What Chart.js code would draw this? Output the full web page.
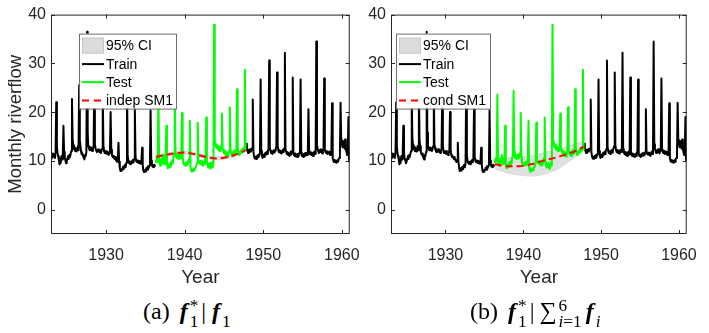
<!DOCTYPE html>
<html>
<head>
<meta charset="utf-8">
<script src="https://cdn.jsdelivr.net/npm/chart.js@4.4.1/dist/chart.umd.min.js"></script>
<style>
  html, body { margin: 0; padding: 0; background: #fff; }
  #wrap { position: relative; width: 709px; height: 333px; overflow: hidden; }
  canvas { position: absolute; top: 0; }
  #cvA { left: 0; }
  #cvB { left: 355px; }
  .cap { position: absolute; top: 296px; font-family: 'Liberation Serif', 'Times New Roman', serif; font-size: 24px; color: #000; white-space: nowrap; line-height: 30px; }
  .cap b { font-style: italic; font-weight: bold; margin-left: 4px; }
  .st { display: inline-block; vertical-align: -0.45em; font-size: 0.72em; line-height: 0.9; text-align: left; margin-left: 2px; }
  .st span { display: block; }
  .sum { font-size: 1.0em; margin-left: 3px; }
  .cap i { font-style: italic; }
  .bar { margin: 0 2px 0 3px; }
</style>
</head>
<body>
<div id="wrap">
  <canvas id="cvA" width="372" height="290"></canvas>
  <canvas id="cvB" width="354" height="290"></canvas>
  <div class="cap" id="capA" style="left:143px">(a) <b>f</b><span class="st"><span>*</span><span>1</span></span><span class="bar">|</span><b>f</b><span class="st"><span>&nbsp;</span><span>1</span></span></div>
  <div class="cap" id="capB" style="left:470px">(b) <b>f</b><span class="st"><span>*</span><span>1</span></span><span class="bar">|</span><span class="sum">&sum;</span><span class="st"><span>6</span><span><i>i</i>=1</span></span><b>f</b><span class="st"><span>&nbsp;</span><span><i>i</i></span></span></div>
</div>
<script>
// ---- data ----
const startYear = 1923;
// monthly riverflow, Jan..Dec per row, 1923-1960
const monthlyFlow = [
  10.5, 11.2, 10.8, 11.5, 10.9, 11.3, 10.6, 11.8, 22.0, 13.0, 11.6, 10.9, // 1923
  10.2,  9.3,  9.6, 10.4, 11.0, 10.3, 11.2, 17.2, 11.8, 10.6, 10.1,  9.5, // 1924
   9.8, 10.5, 11.0, 10.4, 11.2, 10.8, 11.5, 12.0, 22.7, 14.5, 13.2, 12.4, // 1925
  12.8, 12.0, 12.6, 11.9, 12.4, 13.0, 12.2, 25.5, 14.2, 13.0, 11.8, 11.3, // 1926
  11.5, 11.0, 10.6, 10.3, 11.2, 11.0, 11.8, 36.5, 15.8, 13.0, 12.6, 12.2, // 1927
  12.8, 12.2, 12.6, 12.0, 12.4, 13.0, 25.0, 13.4, 12.6, 12.1, 11.8, 12.3, // 1928
  11.9, 12.4, 11.8, 12.2, 11.6, 12.0, 12.5, 24.0, 13.2, 12.0, 11.6, 11.9, // 1929
  11.5, 12.0, 11.4, 11.8, 11.2, 11.6, 12.1, 20.0, 12.3, 11.2, 10.8, 11.0, // 1930
  10.6, 10.4, 10.8, 10.2, 10.0,  9.8, 10.3, 13.7,  9.8,  8.6,  7.9,  8.2, // 1931
   8.0,  8.4,  8.8,  8.3,  8.9,  9.2,  8.7,  9.6, 27.0, 11.2, 10.0,  9.6, // 1932
   9.4,  9.8,  9.3,  9.9,  9.6, 10.2,  9.7, 10.4, 20.6, 11.0, 10.0,  9.8, // 1933
  10.1,  9.6, 10.0,  9.5,  9.9,  9.4,  9.8, 12.7,  9.2,  8.0,  7.7,  8.1, // 1934
   7.8,  8.3,  8.6,  8.2,  8.9,  8.5,  9.0,  9.4, 20.4, 10.0,  9.2,  8.8, // 1935
   9.1,  8.7,  9.2,  8.8,  9.6, 10.4,  9.8, 11.0, 23.6, 10.5,  9.4,  9.0, // 1936
   9.2, 10.4,  9.6, 11.2,  9.8,  9.3, 10.0, 10.6, 17.2,  9.6,  8.5,  9.0, // 1937
   8.6,  9.4,  8.8,  9.7,  9.2, 10.1,  9.5, 10.8, 11.4, 24.4, 12.0, 10.8, // 1938
  10.6, 11.2, 10.4, 10.9, 11.3, 10.5, 11.0, 11.6, 19.8, 10.8,  9.6,  9.2, // 1939
   9.4,  9.0,  9.6,  9.1,  9.8,  9.3, 10.0, 10.5, 18.2,  8.6,  8.0,  7.8, // 1940
   8.2,  7.9,  8.4,  8.1,  8.6,  8.8,  9.2,  9.6, 17.8, 10.2,  9.6,  9.8, // 1941
   9.4, 10.0,  9.2,  9.8,  9.0,  9.6,  9.3, 10.2, 10.6, 18.9,  9.8,  9.2, // 1942
   8.6,  9.4,  8.8,  9.6,  8.4,  9.2,  8.7,  9.8,  9.1, 37.9, 14.0, 13.2, // 1943
  12.8, 13.4, 12.5, 13.0, 12.2, 12.8, 12.0, 12.6, 13.2, 19.7, 12.6, 12.0, // 1944
  11.6, 12.2, 11.4, 11.0, 11.8, 11.2, 10.9, 11.5, 12.0, 21.0, 12.4, 11.6, // 1945
  11.2, 11.8, 11.0, 11.6, 12.2, 11.4, 11.8, 12.4, 24.7, 12.6, 11.8, 11.2, // 1946
  11.4, 12.0, 11.6, 12.3, 11.8, 12.5, 12.0, 12.8, 28.7, 12.2, 13.5, 12.4, // 1947
  12.0, 11.6, 12.3, 11.8, 12.4, 11.9, 12.2, 12.6, 22.6, 11.8, 10.9, 10.5, // 1948
  10.8, 10.4, 11.0, 10.6, 11.2, 10.8, 11.4, 11.8, 26.7, 12.0, 11.0, 10.6, // 1949
  10.9, 11.3, 10.8, 11.6, 11.2, 11.8, 11.4, 12.0, 12.4, 30.6, 12.8, 12.0, // 1950
  11.6, 12.0, 11.4, 11.8, 12.2, 11.7, 12.1, 12.5, 13.0, 28.1, 13.2, 12.2, // 1951
  11.8, 12.2, 11.6, 12.0, 11.5, 11.9, 12.3, 11.8, 12.6, 32.2, 12.4, 11.8, // 1952
  11.4, 11.8, 11.2, 11.6, 11.0, 11.5, 11.9, 11.3, 12.0, 27.1, 11.8, 11.2, // 1953
  11.0, 11.5, 10.9, 11.3, 10.8, 11.4, 11.0, 11.6, 12.0, 26.7, 11.6, 11.0, // 1954
  11.2, 10.8, 11.4, 11.0, 11.6, 11.1, 11.5, 11.2, 11.8, 20.6, 11.9, 11.4, // 1955
  11.3, 11.7, 11.2, 11.6, 11.0, 11.5, 11.9, 11.4, 12.2, 34.5, 13.4, 12.4, // 1956
  12.0, 11.6, 12.2, 11.8, 12.4, 11.9, 11.5, 12.1, 12.6, 26.9, 12.3, 11.8, // 1957
  11.6, 12.0, 11.4, 11.8, 11.5, 11.9, 11.2, 11.6, 11.9, 21.8, 10.6, 10.0, // 1958
   9.8, 10.2,  9.7, 10.0,  9.6, 10.1,  9.8, 10.3, 10.6, 11.2, 21.9, 14.3, // 1959
  13.6, 12.8, 14.0, 13.2, 12.5, 14.4, 12.6, 11.8, 11.2, 11.9, 19.0, 10.0  // 1960
];
// test window = May 1936 .. Oct 1947 (month indices)
const testStart = 160;
const testEnd = 297;

// predictive mean + 95% CI over the test window
const indepYears = [1936.33, 1937.5, 1939.0, 1940.0, 1941.5, 1943.0, 1944.0, 1945.5, 1947.0, 1947.75];
const indepMean  = [10.8, 11.2, 11.6, 11.7, 11.3, 10.7, 10.5, 10.8, 11.6, 12.2];
const indepLo    = [10.5, 10.9, 11.3, 11.4, 11.0, 10.4, 10.2, 10.5, 11.3, 11.9];
const indepHi    = [11.1, 11.5, 11.9, 12.0, 11.6, 11.0, 10.8, 11.1, 11.9, 12.5];

const condYears = [1936.33, 1938.0, 1939.5, 1941.0, 1942.5, 1944.2, 1945.8, 1947.0, 1947.75];
const condMean  = [9.3, 8.9, 8.9, 9.3, 10.0, 10.7, 11.5, 12.2, 12.9];
const condLo    = [8.4, 7.5, 7.1, 6.9, 7.2, 8.2, 9.8, 11.3, 12.4];
const condHi    = [10.9, 10.6, 10.7, 11.0, 11.6, 12.3, 13.0, 13.6, 14.1];

const xTicks = [1930, 1940, 1950, 1960];
const yTicks = [0, 10, 20, 30, 40];
const legendNames = ['95% CI', 'Train', 'Test'];

// ---- helpers ----
const axisColor = '#262626';
const sans = "'Liberation Sans', Arial, sans-serif";

const toPts = (from, to) => {
  const pts = [];
  for (let i = from; i <= to; i++) pts.push({ x: startYear + i / 12, y: monthlyFlow[i] });
  return pts;
};
const zipPts = (xs, ys) => xs.map((x, i) => ({ x: x, y: ys[i] }));

const trainA = toPts(0, testStart - 1);
const testPts = toPts(testStart, testEnd);
const trainB = toPts(testEnd + 1, monthlyFlow.length - 1);

// box, inward ticks and legend (matlab look)
const framePlugin = {
  id: 'frame',
  afterDraw(chart, args, o) {
    const { ctx, chartArea: a, scales: { x, y } } = chart;
    ctx.save();
    ctx.strokeStyle = axisColor;
    ctx.lineWidth = 1;
    ctx.strokeRect(a.left + 0.5, a.top + 0.5, a.right - a.left - 1, a.bottom - a.top - 1);
    ctx.beginPath();
    xTicks.forEach(v => {
      const px = Math.round(x.getPixelForValue(v)) + 0.5;
      ctx.moveTo(px, a.bottom); ctx.lineTo(px, a.bottom - 4);
      ctx.moveTo(px, a.top); ctx.lineTo(px, a.top + 4);
    });
    yTicks.forEach(v => {
      const py = Math.round(y.getPixelForValue(v)) + 0.5;
      ctx.moveTo(a.left, py); ctx.lineTo(a.left + 4, py);
      ctx.moveTo(a.right, py); ctx.lineTo(a.right - 4, py);
    });
    ctx.stroke();

    // legend
    const lx = a.left + o.dx, ly = a.top + o.dy, lw = o.w, lh = 75;
    ctx.fillStyle = '#fff';
    ctx.fillRect(lx, ly, lw, lh);
    ctx.strokeStyle = '#6e6e6e';
    ctx.strokeRect(lx + 0.5, ly + 0.5, lw, lh);
    const rows = [12, 30.5, 48.5, 67];
    const sx0 = lx + 3, sx1 = lx + 25;
    // CI patch
    ctx.fillStyle = '#dcdcdc';
    ctx.fillRect(sx0, ly + rows[0] - 8, sx1 - sx0, 16);
    ctx.strokeStyle = '#c8c8c8';
    ctx.strokeRect(sx0 + 0.5, ly + rows[0] - 7.5, sx1 - sx0 - 1, 15);
    ctx.lineWidth = 2;
    [['#000', []], ['#00ff00', []], ['#ff0000', [7, 5]]].forEach((s, i) => {
      ctx.strokeStyle = s[0];
      ctx.setLineDash(s[1]);
      ctx.beginPath();
      ctx.moveTo(sx0, ly + rows[i + 1]);
      ctx.lineTo(sx1, ly + rows[i + 1]);
      ctx.stroke();
    });
    ctx.setLineDash([]);
    ctx.fillStyle = '#000';
    ctx.font = '14px ' + sans;
    ctx.textBaseline = 'middle';
    ctx.textAlign = 'left';
    legendNames.concat([o.predName]).forEach((t, i) => ctx.fillText(t, lx + 27, ly + rows[i] + 1));
    ctx.restore();
  }
};

function makePanel(id, P) {
  return new Chart(document.getElementById(id), {
    type: 'line',
    data: {
      datasets: [
        { label: 'lo', data: zipPts(P.years, P.lo), borderColor: '#cfcfcf', borderWidth: 1, backgroundColor: '#e0e0e0',
          fill: false, pointRadius: 0, cubicInterpolationMode: 'monotone', order: 10 },
        { label: '95% CI', data: zipPts(P.years, P.hi), borderColor: '#cfcfcf', borderWidth: 1, backgroundColor: '#e0e0e0',
          fill: '-1', pointRadius: 0, cubicInterpolationMode: 'monotone', order: 9 },
        { label: 'Train', data: trainA, borderColor: '#000', borderWidth: 2, pointRadius: 0, tension: 0, borderJoinStyle: 'round', order: 4 },
        { label: 'Train2', data: trainB, borderColor: '#000', borderWidth: 2, pointRadius: 0, tension: 0, borderJoinStyle: 'round', order: 3 },
        { label: 'Test', data: testPts, borderColor: '#00ff00', borderWidth: 2, pointRadius: 0, tension: 0, borderJoinStyle: 'round', order: 2 },
        { label: P.predName, data: zipPts(P.years, P.mean), borderColor: '#ff0000', borderWidth: 2, borderDash: [7, 4],
          pointRadius: 0, cubicInterpolationMode: 'monotone', order: 1 }
      ]
    },
    options: {
      responsive: false,
      animation: false,
      events: [],
      layout: { padding: { left: 0, right: P.padRight, top: 9, bottom: 0 } },
      plugins: {
        legend: { display: false },
        tooltip: { enabled: false },
        frame: { dx: P.legDx, dy: 19, w: P.legW, predName: P.predName }
      },
      scales: {
        x: {
          type: 'linear', min: 1923, max: 1961,
          afterBuildTicks: s => { s.ticks = xTicks.map(v => ({ value: v })); },
          afterFit: s => { s.height = 56; },
          grid: { display: false, drawTicks: false },
          border: { display: false },
          ticks: { color: axisColor, font: { family: sans, size: 16 }, padding: 12, maxRotation: 0,
                   callback: v => String(v) },
          title: { display: true, text: 'Year', color: axisColor, font: { family: sans, size: 19 },
                   padding: { top: 0, bottom: 1 } }
        },
        y: {
          type: 'linear', min: -5, max: 40,
          afterBuildTicks: s => { s.ticks = yTicks.map(v => ({ value: v })); },
          afterFit: s => { s.width = P.yWidth; },
          grid: { display: false, drawTicks: false },
          border: { display: false },
          ticks: { color: axisColor, font: { family: sans, size: 16 }, padding: 5 },
          title: { display: P.yTitle, text: 'Monthly riverflow', color: axisColor, font: { family: sans, size: 18.5 },
                   padding: { top: 5, bottom: 0 } }
        }
      }
    },
    plugins: [framePlugin]
  });
}

makePanel('cvA', { years: indepYears, mean: indepMean, lo: indepLo, hi: indepHi, predName: 'indep SM1',
                   yWidth: 51, yTitle: true, padRight: 13, legDx: 28, legW: 97 });
makePanel('cvB', { years: condYears, mean: condMean, lo: condLo, hi: condHi, predName: 'cond SM1',
                   yWidth: 36, yTitle: false, padRight: 10, legDx: 5, legW: 94 });
</script>
</body>
</html>
